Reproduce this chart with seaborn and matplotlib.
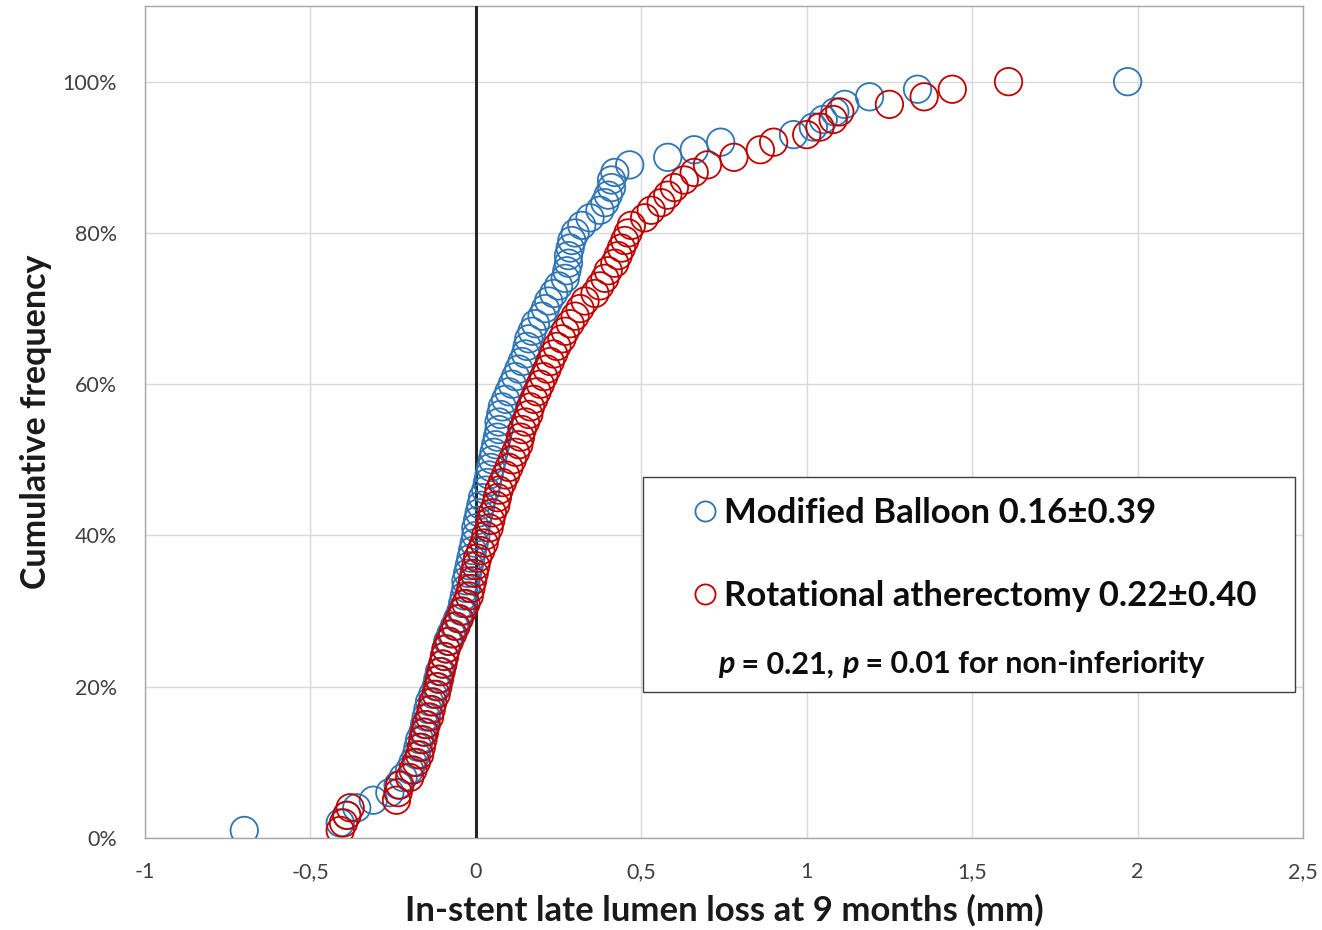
import numpy as np
import pandas as pd
import matplotlib
matplotlib.use("Agg")
import matplotlib.pyplot as plt
import seaborn as sns
from matplotlib.lines import Line2D
from matplotlib.patches import Rectangle
from matplotlib.ticker import FixedLocator, FuncFormatter, PercentFormatter

# ---- data (late lumen loss in mm, sorted) ----
balloon_loss = [
    -0.70, -0.41, -0.39, -0.36, -0.31, -0.26, -0.235, -0.22, -0.20, -0.19,
    -0.18, -0.175, -0.17, -0.16, -0.155, -0.15, -0.145, -0.14, -0.13, -0.12,
    -0.115, -0.11, -0.10, -0.095, -0.09, -0.085, -0.075, -0.065, -0.055, -0.045,
    -0.04, -0.035, -0.03, -0.03, -0.025, -0.02, -0.015, -0.01, -0.005, 0.00,
    0.00, 0.005, 0.01, 0.015, 0.02, 0.03, 0.035, 0.04, 0.045, 0.05,
    0.055, 0.06, 0.065, 0.07, 0.07, 0.075, 0.08, 0.09, 0.10, 0.11,
    0.12, 0.13, 0.14, 0.15, 0.155, 0.16, 0.17, 0.18, 0.20, 0.21,
    0.22, 0.235, 0.25, 0.27, 0.275, 0.28, 0.28, 0.285, 0.29, 0.30,
    0.32, 0.345, 0.375, 0.39, 0.40, 0.41, 0.41, 0.42, 0.465, 0.58,
    0.66, 0.74, 0.96, 1.02, 1.05, 1.085, 1.115, 1.19, 1.335, 1.97,
]
rota_loss = [
    -0.41, -0.40, -0.39, -0.38, -0.24, -0.235, -0.23, -0.20, -0.19, -0.18,
    -0.17, -0.165, -0.16, -0.155, -0.15, -0.14, -0.135, -0.13, -0.12, -0.115,
    -0.11, -0.105, -0.10, -0.095, -0.09, -0.08, -0.07, -0.06, -0.05, -0.04,
    -0.03, -0.02, -0.015, -0.01, -0.005, 0.00, 0.005, 0.015, 0.025, 0.03,
    0.04, 0.045, 0.05, 0.06, 0.065, 0.07, 0.08, 0.09, 0.10, 0.11,
    0.12, 0.13, 0.135, 0.14, 0.15, 0.16, 0.165, 0.175, 0.185, 0.195,
    0.205, 0.215, 0.225, 0.235, 0.245, 0.26, 0.27, 0.285, 0.30, 0.315,
    0.33, 0.36, 0.375, 0.39, 0.40, 0.42, 0.43, 0.44, 0.45, 0.46,
    0.47, 0.51, 0.53, 0.56, 0.58, 0.60, 0.63, 0.66, 0.70, 0.78,
    0.86, 0.90, 1.00, 1.04, 1.08, 1.10, 1.25, 1.355, 1.44, 1.61,
]
group_names = ["Modified Balloon", "Rotational atherectomy"]
legend_labels = ["Modified Balloon 0.16\u00b10.39", "Rotational atherectomy 0.22\u00b10.40"]
x_ticks = [-1, -0.5, 0, 0.5, 1, 1.5, 2, 2.5]
y_ticks = [0, 0.2, 0.4, 0.6, 0.8, 1.0]
x_label = "In-stent late lumen loss at 9 months (mm)"
y_label = "Cumulative frequency"

colors = {"Modified Balloon": "#2E75B6", "Rotational atherectomy": "#C00000"}

# ---- build table & cumulative frequency ----
df = pd.concat([
    pd.DataFrame({"group": group_names[0], "loss": balloon_loss}),
    pd.DataFrame({"group": group_names[1], "loss": rota_loss}),
], ignore_index=True)
df["cumfreq"] = df.groupby("group")["loss"].rank(method="first") / df.groupby("group")["loss"].transform("count")

sns.set_theme(style="white")
plt.rcParams["font.family"] = ["Lato", "DejaVu Sans"]

fig, ax = plt.subplots(figsize=(13.22, 9.30), dpi=100)
fig.subplots_adjust(left=0.1097, right=0.9856, bottom=0.0989, top=0.9935)

for g in group_names:
    sub = df[df["group"] == g]
    sns.scatterplot(data=sub, x="loss", y="cumfreq", ax=ax, s=390,
                    facecolor="none", edgecolor=colors[g], linewidth=1.3,
                    legend=False, zorder=4)

ax.axvline(0, color="#262626", lw=2.2, zorder=3)

ax.set_xlim(-1, 2.5)
ax.set_ylim(0, 1.1)
ax.xaxis.set_major_locator(FixedLocator(x_ticks))
ax.yaxis.set_major_locator(FixedLocator(y_ticks))
ax.xaxis.set_major_formatter(FuncFormatter(lambda v, p: ("%g" % v).replace(".", ",")))
ax.yaxis.set_major_formatter(PercentFormatter(1.0, decimals=0))
ax.grid(True, color="#D9D9D9", lw=1.0, zorder=0)
ax.set_axisbelow(True)
ax.tick_params(axis="both", length=0, labelsize=15.5, labelcolor="#404040")
ax.tick_params(axis="x", pad=17)
ax.tick_params(axis="y", pad=20)
for sp in ax.spines.values():
    sp.set_color("#A6A6A6")
    sp.set_linewidth(1.0)

ax.set_xlabel(x_label, fontsize=25, fontweight="bold", color="#1a1a1a", labelpad=9)
ax.set_ylabel(y_label, fontsize=24.5, fontweight="bold", color="#1a1a1a", labelpad=8)

# legend box
ax.add_patch(Rectangle((0.430, 0.1755), 0.563, 0.2584, transform=ax.transAxes,
                       facecolor="white", edgecolor="#404040", lw=1.0, zorder=5))
handles = [Line2D([], [], ls="", marker="o", ms=14.5, mfc="none",
                  mec=colors[g], mew=1.3) for g in group_names]
leg = ax.legend(handles, legend_labels, loc="upper left", bbox_to_anchor=(0.4715, 0.4103),
                frameon=False, borderpad=0, borderaxespad=0, handlelength=0.8,
                handletextpad=0.15, labelspacing=1.48,
                prop=dict(family=["Lato", "DejaVu Sans"], weight="bold", size=25))
leg.set_zorder(6)
for t in leg.get_texts():
    t.set_color("#0d0d0d")

# p-value line
kw = dict(fontsize=22, fontweight="bold", color="#0d0d0d", zorder=7)
t1 = ax.text(0.4948, 0.209, "p", transform=ax.transAxes, va="center", ha="left",
             fontstyle="italic", **kw)
t2 = ax.annotate(" = 0.21, ", xy=(1, 0), xycoords=t1, va="bottom", ha="left", **kw)
t3 = ax.annotate("p", xy=(1, 0), xycoords=t2, va="bottom", ha="left", fontstyle="italic", **kw)
t4 = ax.annotate(" = 0.01 for non-inferiority", xy=(1, 0), xycoords=t3, va="bottom", ha="left", **kw)

fig.savefig("out.png", dpi=100)
